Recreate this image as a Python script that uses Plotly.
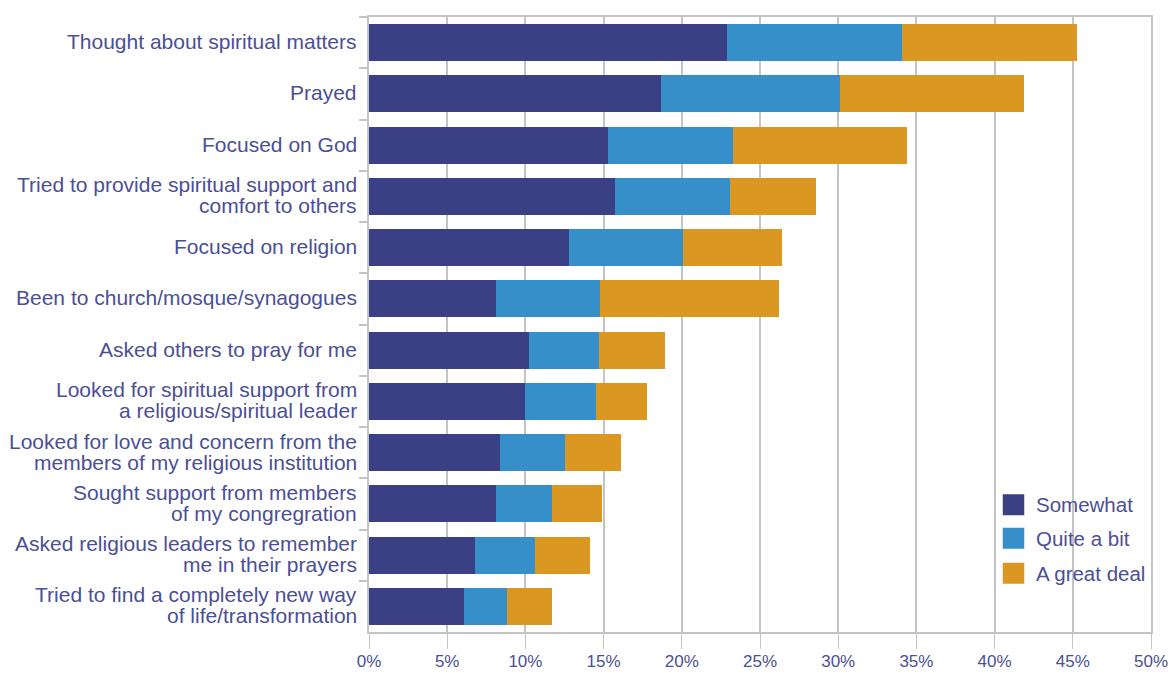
import plotly.graph_objects as go

# Survey items (top to bottom); "<br>" marks a line break in the label
categories = [
    "Thought about spiritual matters",
    "Prayed",
    "Focused on God",
    "Tried to provide spiritual support and<br>comfort to others",
    "Focused on religion",
    "Been to church/mosque/synagogues",
    "Asked others to pray for me",
    "Looked for spiritual support from<br>a religious/spiritual leader",
    "Looked for love and concern from the<br>members of my religious institution",
    "Sought support from members<br>of my congregration",
    "Asked religious leaders to remember<br>me in their prayers",
    "Tried to find a completely new way<br>of life/transformation",
]

# Share of respondents (%) by degree
somewhat = [22.9, 18.7, 15.3, 15.7, 12.8, 8.1, 10.2, 10.0, 8.4, 8.1, 6.8, 6.1]
quite_a_bit = [11.2, 11.4, 8.0, 7.4, 7.3, 6.7, 4.5, 4.5, 4.1, 3.6, 3.8, 2.7]
great_deal = [11.2, 11.8, 11.1, 5.5, 6.3, 11.4, 4.2, 3.3, 3.6, 3.2, 3.5, 2.9]

series_names = ["Somewhat", "Quite a bit", "A great deal"]
series_colors = ["#3B3F84", "#378FC9", "#DA9722"]
x_ticks = [0, 5, 10, 15, 20, 25, 30, 35, 40, 45, 50]

TEXT = "#4B4F96"
GRID = "#C4C4C4"
FONT = "Liberation Sans, Arial, sans-serif"

W, H = 1172, 673
M_L, M_R, M_T, M_B = 369, 21, 17, 41
plot_w = W - M_L - M_R
plot_h = H - M_T - M_B

fig = go.Figure()
for name, vals, color in zip(series_names, [somewhat, quite_a_bit, great_deal], series_colors):
    fig.add_trace(go.Bar(
        y=categories, x=vals, name=name, orientation="h",
        marker=dict(color=color, line=dict(width=0)),
        showlegend=False,
    ))

fig.update_layout(
    barmode="stack",
    bargap=0.28,
    width=W, height=H,
    margin=dict(l=M_L, r=M_R, t=M_T, b=M_B),
    paper_bgcolor="white", plot_bgcolor="white",
    font=dict(family=FONT, color=TEXT, size=20),
)

fig.update_xaxes(
    range=[0, 50],
    tickvals=x_ticks,
    ticktext=[f"{v}%" for v in x_ticks],
    showgrid=True, gridcolor=GRID, gridwidth=2,
    showline=True, linecolor=GRID, linewidth=2, mirror=True,
    ticks="outside", ticklen=15, tickcolor=GRID, tickwidth=1,
    tickfont=dict(size=17, color=TEXT),
    ticklabelstandoff=-2,
    zeroline=False,
    automargin=False,
)
fig.update_yaxes(
    autorange="reversed",
    showgrid=False,
    showline=True, linecolor=GRID, linewidth=2, mirror=True,
    ticks="outside", ticklen=8, tickcolor=GRID, tickwidth=2,
    tickson="boundaries",
    showticklabels=False,
    automargin=False,
)

# Category labels, one text line per annotation for tight line spacing
LINE_STEP = 20.8
for cat in categories:
    lines = cat.split("<br>")
    n = len(lines)
    for i, line in enumerate(lines):
        fig.add_annotation(
            xref="paper", yref="y", x=0, y=cat,
            xshift=-10, yshift=((n - 1) / 2 - i) * LINE_STEP + 1,
            text=line, showarrow=False,
            xanchor="right", yanchor="middle",
            font=dict(size=21, color=TEXT),
        )

# Legend drawn as swatches with labels
legend_tops = [494, 527.5, 562.5]
for name, color, top in zip(series_names, series_colors, legend_tops):
    y_top = 1 - (top - M_T) / plot_h
    y_bot = 1 - (top + 21.5 - M_T) / plot_h
    fig.add_shape(
        type="rect", xref="paper", yref="paper",
        x0=(1002.5 - M_L) / plot_w, x1=(1024.5 - M_L) / plot_w,
        y0=y_bot, y1=y_top,
        fillcolor=color, line=dict(width=0.5, color="white"), layer="above",
    )
    fig.add_annotation(
        xref="paper", yref="paper",
        x=(1034 - M_L) / plot_w, y=(y_top + y_bot) / 2,
        text=name, showarrow=False, xanchor="left", yanchor="middle",
        font=dict(size=20.5, color=TEXT),
    )

fig.write_html("out.html")
